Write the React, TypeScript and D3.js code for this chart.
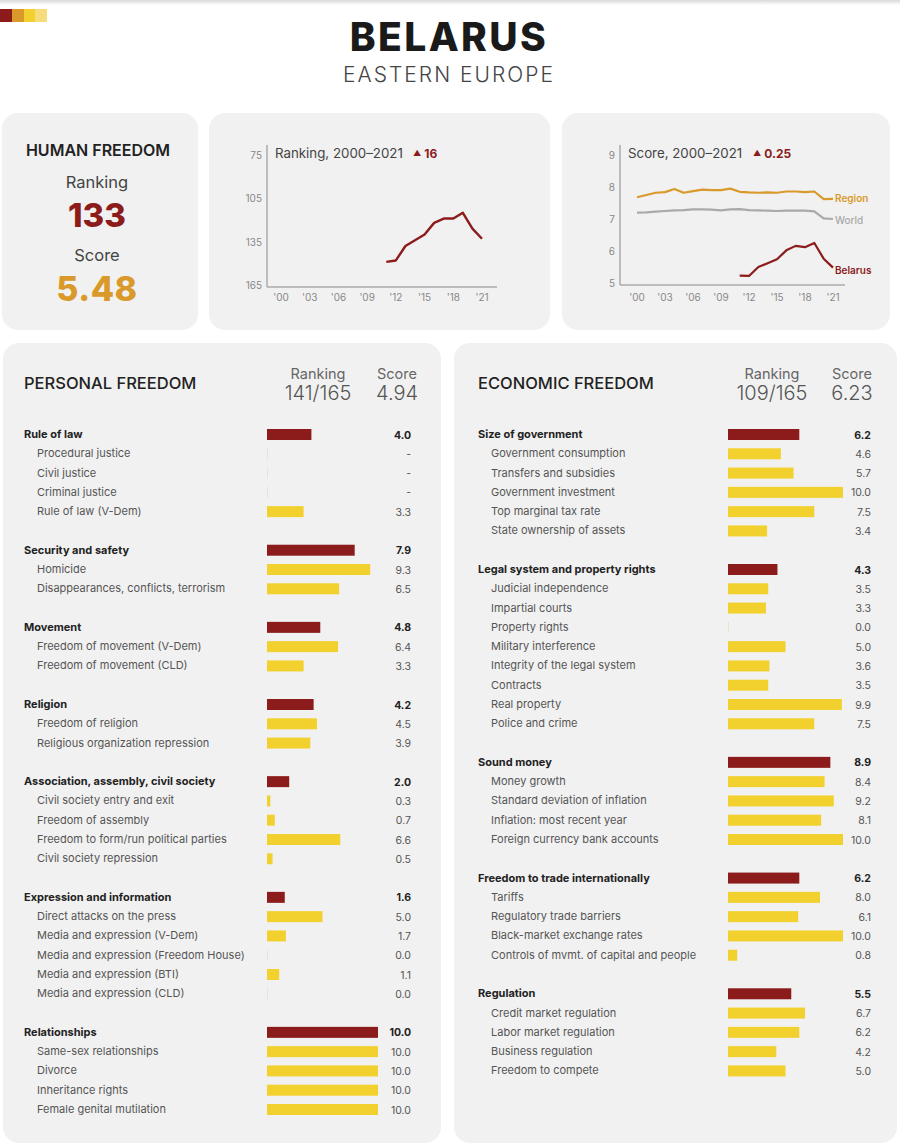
import React from "react";
import * as d3 from "d3";

// ---------- DATA ----------
const years = [2000, 2001, 2002, 2003, 2004, 2005, 2006, 2007, 2008, 2009, 2010, 2011, 2012, 2013, 2014, 2015, 2016, 2017, 2018, 2019, 2020, 2021];
const countryYears = [2011, 2012, 2013, 2014, 2015, 2016, 2017, 2018, 2019, 2020, 2021];
const rankingValues = [149, 148, 138, 134, 130, 122, 119, 119, 115, 126, 133];
const belarusScore = [5.23, 5.22, 5.5, 5.62, 5.74, 6.02, 6.16, 6.12, 6.25, 5.76, 5.48];
const regionScore = [7.68, 7.75, 7.82, 7.84, 7.94, 7.82, 7.87, 7.92, 7.9, 7.9, 7.95, 7.85, 7.83, 7.82, 7.83, 7.82, 7.86, 7.86, 7.84, 7.86, 7.62, 7.63];
const worldScore = [7.2, 7.21, 7.23, 7.25, 7.27, 7.28, 7.3, 7.3, 7.29, 7.27, 7.3, 7.31, 7.28, 7.27, 7.26, 7.25, 7.26, 7.26, 7.26, 7.24, 7.02, 7.0];
const xTickYears = [2000, 2003, 2006, 2009, 2012, 2015, 2018, 2021];
const xTickLabels = ["'00", "'03", "'06", "'09", "'12", "'15", "'18", "'21"];
const rankTicks = [75, 105, 135, 165];
const scoreTicks = [5, 6, 7, 8, 9];

const pfGroups = ["Rule of law", "Security and safety", "Movement", "Religion", "Association, assembly, civil society", "Expression and information", "Relationships"];
const pfGroupValues = [4.0, 7.9, 4.8, 4.2, 2.0, 1.6, 10.0];
const pfSubLabels = [
  ["Procedural justice", "Civil justice", "Criminal justice", "Rule of law (V-Dem)"],
  ["Homicide", "Disappearances, conflicts, terrorism"],
  ["Freedom of movement (V-Dem)", "Freedom of movement (CLD)"],
  ["Freedom of religion", "Religious organization repression"],
  ["Civil society entry and exit", "Freedom of assembly", "Freedom to form/run political parties", "Civil society repression"],
  ["Direct attacks on the press", "Media and expression (V-Dem)", "Media and expression (Freedom House)", "Media and expression (BTI)", "Media and expression (CLD)"],
  ["Same-sex relationships", "Divorce", "Inheritance rights", "Female genital mutilation"],
];
const pfSubValues: (number | null)[][] = [
  [null, null, null, 3.3],
  [9.3, 6.5],
  [6.4, 3.3],
  [4.5, 3.9],
  [0.3, 0.7, 6.6, 0.5],
  [5.0, 1.7, 0.0, 1.1, 0.0],
  [10.0, 10.0, 10.0, 10.0],
];

const efGroups = ["Size of government", "Legal system and property rights", "Sound money", "Freedom to trade internationally", "Regulation"];
const efGroupValues = [6.2, 4.3, 8.9, 6.2, 5.5];
const efSubLabels = [
  ["Government consumption", "Transfers and subsidies", "Government investment", "Top marginal tax rate", "State ownership of assets"],
  ["Judicial independence", "Impartial courts", "Property rights", "Military interference", "Integrity of the legal system", "Contracts", "Real property", "Police and crime"],
  ["Money growth", "Standard deviation of inflation", "Inflation: most recent year", "Foreign currency bank accounts"],
  ["Tariffs", "Regulatory trade barriers", "Black-market exchange rates", "Controls of mvmt. of capital and people"],
  ["Credit market regulation", "Labor market regulation", "Business regulation", "Freedom to compete"],
];
const efSubValues: (number | null)[][] = [
  [4.6, 5.7, 10.0, 7.5, 3.4],
  [3.5, 3.3, 0.0, 5.0, 3.6, 3.5, 9.9, 7.5],
  [8.4, 9.2, 8.1, 10.0],
  [8.0, 6.1, 10.0, 0.8],
  [6.7, 6.2, 4.2, 5.0],
];

// ---------- STYLE ----------
const FONT = "Inter, 'Open Sans', sans-serif";
const RED = "#8c1c1c";
const ORANGE = "#d99a2b";
const YELLOW = "#f2d12e";
const GRAY = "#a9a9a9";
const PANEL = "#f1f1f1";

type Row = { label: string; value: number | null; parent: boolean; slot: number };

function buildRows(groups: string[], gv: number[], subs: string[][], sv: (number | null)[][]): Row[] {
  const rows: Row[] = [];
  let slot = 0;
  groups.forEach((g, i) => {
    rows.push({ label: g, value: gv[i], parent: true, slot: slot++ });
    subs[i].forEach((s, j) => rows.push({ label: s, value: sv[i][j], parent: false, slot: slot++ }));
    slot++; // blank row between groups
  });
  return rows;
}

function BarPanel(props: {
  x0: number; x1: number; title: string; rank: string; score: string;
  rankCx: number; scoreCx: number; labelX: number; barX: number; barW: number; valueX: number;
  rows: Row[];
}) {
  const { x0, x1, title, rank, score, rankCx, scoreCx, labelX, barX, barW, valueX, rows } = props;
  const yRow = d3.scaleLinear().domain([0, 35]).range([434, 1109]);
  const xBar = d3.scaleLinear().domain([0, 10]).range([barX, barX + barW]);
  return (
    <g>
      <rect x={x0} y={343} width={x1 - x0} height={800} rx={16} fill={PANEL} />
      <text x={labelX} y={383} fontSize={16.5} fontWeight={500} fill="#222" dominantBaseline="central">{title}</text>
      <text x={rankCx} y={373} fontSize={14.5} fill="#666" textAnchor="middle" dominantBaseline="central">Ranking</text>
      <text x={rankCx} y={393} fontSize={20} fontWeight={300} fill="#555" textAnchor="middle" dominantBaseline="central">{rank}</text>
      <text x={scoreCx} y={373} fontSize={14.5} fill="#666" textAnchor="middle" dominantBaseline="central">Score</text>
      <text x={scoreCx} y={393} fontSize={20} fontWeight={300} fill="#555" textAnchor="middle" dominantBaseline="central">{score}</text>
      {rows.map((r, i) => {
        const y = yRow(r.slot);
        const w = r.value == null ? 0 : xBar(r.value) - xBar(0);
        return (
          <g key={i}>
            <text x={r.parent ? labelX : labelX + 13} y={y} fontSize={11} fontWeight={r.parent ? 700 : 400}
              fill={r.parent ? "#222" : "#555"} dominantBaseline="central">{r.label}</text>
            {w > 0 ? (
              <rect x={xBar(0)} y={y - 5} width={w} height={11} fill={r.parent ? RED : YELLOW} />
            ) : (
              <rect x={xBar(0)} y={y - 5} width={0.8} height={11} fill="#e6e0cc" />
            )}
            <text x={valueX} y={y + 1} fontSize={10.5} fontWeight={r.parent ? 700 : 400} fill={r.parent ? "#222" : "#555"}
              textAnchor="end" dominantBaseline="central">{r.value == null ? "-" : d3.format(".1f")(r.value)}</text>
          </g>
        );
      })}
    </g>
  );
}

export default function App() {
  // Ranking chart
  const xR = d3.scaleLinear().domain([2000, 2021]).range([281, 482]);
  const yR = d3.scaleLinear().domain([75, 165]).range([155, 285]);
  const rankLine = d3.line<number>().x((_, i) => xR(countryYears[i])).y((d) => yR(d));

  // Score chart
  const xS = d3.scaleLinear().domain([2000, 2021]).range([637, 833]);
  const yS = d3.scaleLinear().domain([5, 9]).range([283, 155]);
  const regionLine = d3.line<number>().x((_, i) => xS(years[i])).y((d) => yS(d));
  const belarusLine = d3.line<number>().x((_, i) => xS(countryYears[i])).y((d) => yS(d));

  const pfRows = buildRows(pfGroups, pfGroupValues, pfSubLabels, pfSubValues);
  const efRows = buildRows(efGroups, efGroupValues, efSubLabels, efSubValues);

  return (
    <svg width={900} height={1147} style={{ position: "absolute", left: 0, top: 0, background: "#fff" }} fontFamily={FONT}>
      <defs>
        <linearGradient id="topShade" x1="0" y1="0" x2="0" y2="1">
          <stop offset="0" stopColor="#d8d8d8" />
          <stop offset="1" stopColor="#ffffff" />
        </linearGradient>
      </defs>
      <rect x={0} y={0} width={900} height={5} fill="url(#topShade)" />
      {/* swatches */}
      <rect x={0} y={9} width={12} height={13} fill={RED} />
      <rect x={12} y={9} width={12} height={13} fill={ORANGE} />
      <rect x={24} y={9} width={11} height={13} fill={YELLOW} />
      <rect x={35} y={9} width={12} height={13} fill="#f6dc7c" />

      {/* title */}
      <text x={449} y={36} fontSize={39} fontWeight={800} fill="#1a1a1a" textAnchor="middle" dominantBaseline="central" letterSpacing={2.4}>BELARUS</text>
      <text x={449} y={74} fontSize={21} fontWeight={300} fill="#444" textAnchor="middle" dominantBaseline="central" letterSpacing={2}>EASTERN EUROPE</text>

      {/* Human freedom panel */}
      <rect x={2} y={113} width={196} height={217} rx={16} fill={PANEL} />
      <text x={98} y={150} fontSize={16} fontWeight={600} fill="#222" textAnchor="middle" dominantBaseline="central">HUMAN FREEDOM</text>
      <text x={97} y={182} fontSize={16.5} fontWeight={400} fill="#444" textAnchor="middle" dominantBaseline="central">Ranking</text>
      <text x={97} y={215} fontSize={33} fontWeight={800} fill={RED} textAnchor="middle" dominantBaseline="central">133</text>
      <text x={97} y={255} fontSize={16.5} fontWeight={400} fill="#444" textAnchor="middle" dominantBaseline="central">Score</text>
      <text x={97} y={288} fontSize={34} fontWeight={800} fill={ORANGE} textAnchor="middle" dominantBaseline="central" letterSpacing={0.5}>5.48</text>

      {/* Ranking chart panel */}
      <rect x={209} y={113} width={341} height={217} rx={16} fill={PANEL} />
      <line x1={267} y1={145} x2={267} y2={287} stroke="#aaa" strokeWidth={1.5} />
      <line x1={267} y1={287} x2={497} y2={287} stroke="#aaa" strokeWidth={1.5} />
      {rankTicks.map((t) => (
        <text key={t} x={262} y={yR(t)} fontSize={10} fill="#888" textAnchor="end" dominantBaseline="central">{t}</text>
      ))}
      {xTickYears.map((t, i) => (
        <text key={t} x={xR(t)} y={297} fontSize={10} fill="#888" textAnchor="middle" dominantBaseline="central">{xTickLabels[i]}</text>
      ))}
      <text x={275} y={153} fontSize={13.3} fill="#444" dominantBaseline="central">Ranking, 2000–2021</text>
      <text x={413} y={153} fontSize={12} fontWeight={700} fill={RED} dominantBaseline="central"><tspan fontSize={8}>▲</tspan> 16</text>
      <path d={rankLine(rankingValues) || ""} fill="none" stroke={RED} strokeWidth={2.4} strokeLinejoin="round" />

      {/* Score chart panel */}
      <rect x={562} y={113} width={328} height={217} rx={16} fill={PANEL} />
      <line x1={620} y1={145} x2={620} y2={285} stroke="#aaa" strokeWidth={1.5} />
      <line x1={620} y1={285} x2={845} y2={285} stroke="#aaa" strokeWidth={1.5} />
      {scoreTicks.map((t) => (
        <text key={t} x={615} y={yS(t)} fontSize={10} fill="#888" textAnchor="end" dominantBaseline="central">{t}</text>
      ))}
      {xTickYears.map((t, i) => (
        <text key={t} x={xS(t)} y={297} fontSize={10} fill="#888" textAnchor="middle" dominantBaseline="central">{xTickLabels[i]}</text>
      ))}
      <text x={628} y={153} fontSize={13.3} fill="#444" dominantBaseline="central">Score, 2000–2021</text>
      <text x={753} y={153} fontSize={12} fontWeight={700} fill={RED} dominantBaseline="central"><tspan fontSize={8}>▲</tspan> 0.25</text>
      <path d={regionLine(worldScore) || ""} fill="none" stroke={GRAY} strokeWidth={2.2} strokeLinejoin="round" />
      <path d={regionLine(regionScore) || ""} fill="none" stroke={ORANGE} strokeWidth={2.2} strokeLinejoin="round" />
      <path d={belarusLine(belarusScore) || ""} fill="none" stroke={RED} strokeWidth={2.2} strokeLinejoin="round" />
      <text x={835} y={198} fontSize={10} fontWeight={600} fill={ORANGE} dominantBaseline="central">Region</text>
      <text x={835} y={220} fontSize={10} fontWeight={500} fill={GRAY} dominantBaseline="central">World</text>
      <text x={835} y={270} fontSize={10} fontWeight={600} fill={RED} dominantBaseline="central">Belarus</text>

      <BarPanel x0={3} x1={441} title="PERSONAL FREEDOM" rank="141/165" score="4.94" rankCx={318} scoreCx={397}
        labelX={24} barX={267} barW={111} valueX={411} rows={pfRows} />
      <BarPanel x0={454} x1={897} title="ECONOMIC FREEDOM" rank="109/165" score="6.23" rankCx={772} scoreCx={852}
        labelX={478} barX={728} barW={115} valueX={871} rows={efRows} />
    </svg>
  );
}
